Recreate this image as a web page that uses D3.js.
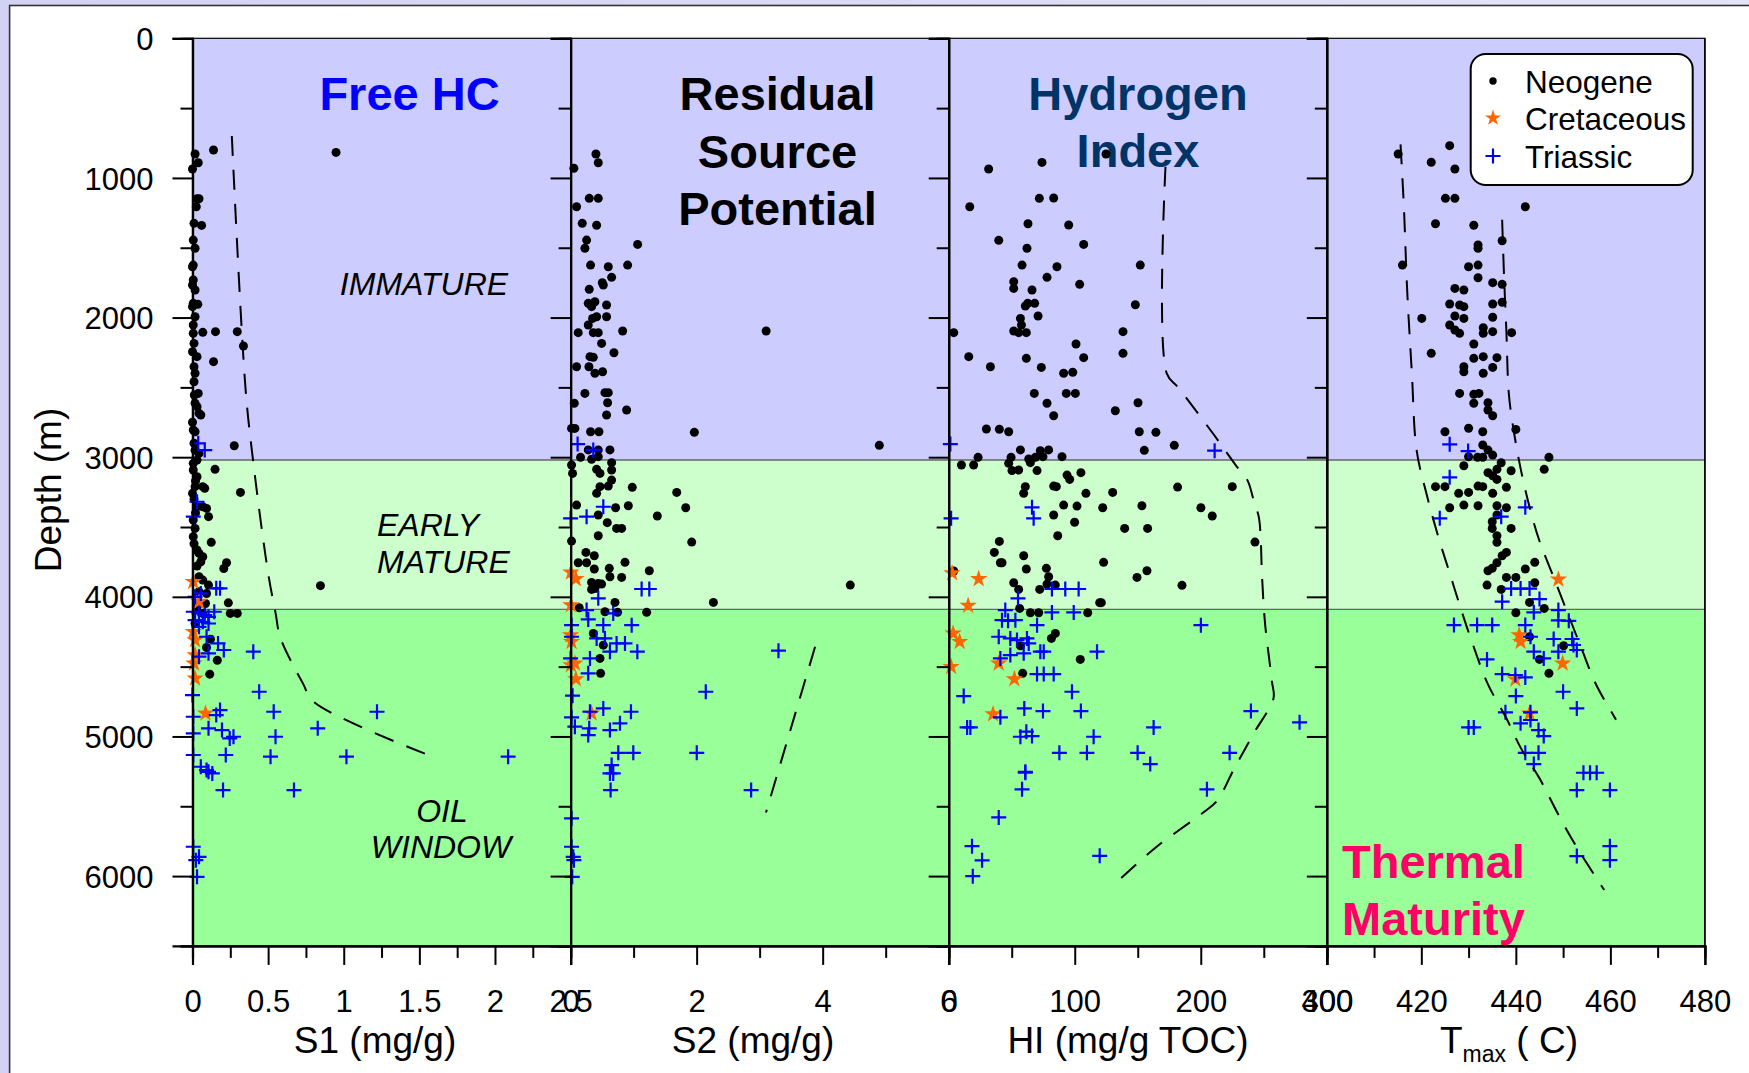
<!DOCTYPE html>
<html><head><meta charset="utf-8">
<script src="https://cdn.jsdelivr.net/npm/d3@7"></script>
<style>
body{margin:0;background:#fff;}
svg{display:block;font-family:"Liberation Sans",Arial,Helvetica,sans-serif;}
</style>
</head><body>
<svg id="chart" width="1749" height="1073"></svg>
<script>
// ---------------- DATA ----------------
const depthTicks = [0,1000,2000,3000,4000,5000,6000];
const depthMinor = [500,1500,2500,3500,4500,5500,6500];
const zones = [
  {name:"immature", top:0, bottom:3020, color:"#ccccff"},
  {name:"early", top:3020, bottom:4090, color:"#ccffcc"},
  {name:"oil", top:4090, bottom:6500, color:"#99ff99"}
];
const s1Ticks = [0,0.5,1,1.5,2,2.5];
const s1Minor = [0.25,0.75,1.25,1.75,2.25];
const s2Ticks = [0,2,4,6];
const s2Minor = [1,3,5];
const hiTicks = [0,100,200,300];
const hiMinor = [50,150,250];
const tmaxTicks = [400,420,440,460,480];
const tmaxMinor = [410,430,450,470];
const legendNames = ["Neogene","Cretaceous","Triassic"];

// Panel 1: S1 (mg/g) vs depth (m)
const s1Neogene = [[0.139,800],[0.949,817],[0.017,829],[0.038,891],[0,936],[0.03,1149],[0.043,1149],[0.025,1206],[0.01,1325],[0.06,1340],[0.005,1445],[0.017,1504],[0.005,1624],[0,1636],[0.005,1731],[0,1767],[0.017,1803],[0.005,1898],[0.035,1905],[0,1922],[0.017,1994],[0.005,2053],[0.068,2106],[0.152,2101],[0.296,2101],[0.337,2204],[0.005,2113],[0.01,2185],[0.139,2316],[0,2245],[0.03,2280],[0.01,2352],[0.017,2399],[0.01,2460],[0.038,2543],[0.012,2555],[0.017,2614],[0.03,2638],[0.043,2686],[0.055,2698],[0,2750],[0.005,2805],[0.017,2818],[0.276,2918],[0.01,2900],[0.017,2950],[0.043,2973],[0.03,3021],[0.005,3044],[0.149,3087],[0.005,3092],[0.03,3140],[0.02,3170],[0.017,3211],[0.068,3211],[0.081,3223],[0.317,3252],[0,3259],[0.01,3300],[0.03,3355],[0.068,3355],[0.093,3367],[0.02,3400],[0.106,3426],[0.005,3450],[0.017,3510],[0.005,3569],[0.124,3610],[0.01,3620],[0.03,3665],[0.043,3689],[0.068,3713],[0.055,3749],[0.225,3756],[0.03,3780],[0.207,3797],[0.043,3856],[0.068,3880],[0.106,3916],[0.846,3920],[0.043,3964],[0.093,3976],[0.237,4043],[0.086,4048],[0.03,4072],[0.25,4119],[0.296,4119],[0.068,4119],[0.017,4191],[0.119,4303],[0.093,4363],[0.164,4454],[0.114,4554]];
const s1Cretaceous = [[0.005,3892],[0.043,4035],[0.005,4250],[0.017,4310],[0.017,4417],[0.01,4477],[0.017,4584],[0.086,4835]];
const s1Triassic = [[0.038,2901],[0.081,2949],[0.03,3319],[0.005,3426],[0.157,3939],[0.182,3939],[0.055,3976],[0.017,4000],[0.005,4107],[0.043,4119],[0.081,4131],[0.106,4143],[0.144,4107],[0.017,4167],[0.068,4179],[0.106,4191],[0.043,4215],[0.093,4286],[0.169,4334],[0.207,4381],[0.402,4393],[0.106,4405],[0.043,4429],[0,4704],[0.441,4680],[0.182,4811],[0.157,4847],[0.537,4823],[1.22,4823],[0.005,4859],[0.828,4942],[0.106,4942],[0.195,4954],[0.005,4978],[0.271,5002],[0.246,5014],[0.549,5002],[0.005,5133],[0.22,5133],[0.516,5145],[1.018,5145],[2.087,5145],[0.055,5217],[0.093,5241],[0.106,5253],[0.131,5265],[0.202,5384],[0.671,5384],[0.005,5790],[0.043,5862],[0.022,5886],[0.03,6005]];
const s1Trend = [[0.26,700],[0.35,2500],[0.40,3020],[0.50,3830],[0.55,4120],[0.58,4290],[0.73,4620],[0.80,4750],[1.60,5150]];

// Panel 2: S2 (mg/g)
const s2Neogene = [[0.052,931],[0.402,829],[0.439,891],[0.095,1206],[0.296,1146],[0.439,1146],[0.185,1325],[0.413,1339],[0.254,1445],[0.227,1504],[1.064,1476],[0.317,1624],[0.598,1636],[0.905,1624],[0.651,1712],[0.503,1750],[0.519,1767],[0.296,1798],[0.28,1898],[0.386,1887],[0.571,1910],[0.333,1922],[0.413,1994],[0.571,1994],[0.349,2006],[0.28,2053],[0.121,2108],[0.36,2108],[0.439,2108],[0.826,2096],[3.103,2096],[0.492,2185],[0.688,2252],[0.307,2280],[0.36,2285],[0.095,2352],[0.291,2352],[0.386,2399],[0.508,2388],[0.227,2543],[0.545,2538],[0.598,2538],[0.058,2614],[0.587,2610],[0.571,2698],[0.889,2662],[0.015,2794],[0.068,2794],[0.317,2818],[0.45,2818],[1.964,2822],[4.899,2915],[0.28,2948],[0.439,2948],[0.624,2948],[0.158,3001],[0.333,3015],[0.439,2996],[0.015,3056],[0.031,3116],[0.651,3039],[0.651,3092],[0.413,3087],[0.466,3116],[0.651,3164],[0.466,3211],[0.598,3207],[0.413,3259],[0.979,3216],[1.684,3252],[1.827,3362],[1.376,3421],[0.095,3343],[0.714,3362],[0.916,3348],[0.439,3414],[0.582,3469],[0.73,3510],[0.81,3510],[0.439,3563],[0.015,3601],[1.922,3608],[0.243,3682],[0.376,3706],[0.121,3756],[0.254,3756],[0.863,3753],[1.249,3813],[0.376,3801],[0.614,3796],[0.624,3856],[0.81,3861],[0.333,3897],[0.439,3904],[0.492,3909],[0.333,3947],[0.386,3940],[4.438,3916],[2.266,4040],[0.704,4040],[0.137,4078],[0.545,4107],[0.746,4111],[1.207,4111],[0.36,4262],[0.519,4346],[0.466,4441],[0.476,4548]];
const s2Cretaceous = [[0.005,3825],[0.084,3872],[0.005,4059],[0,4274],[0.015,4322],[0.005,4489],[0.068,4477],[0.084,4589],[0.333,4835]];
const s2Triassic = [[0.111,2906],[0.36,2948],[0.519,3355],[0,3438],[0.254,3426],[1.127,3944],[1.249,3944],[0.439,4011],[0.254,4095],[0.677,4119],[0.28,4162],[0.519,4203],[0.969,4203],[0.015,4203],[0.015,4286],[0.413,4298],[0.545,4298],[0.73,4334],[0.863,4334],[0.624,4393],[1.059,4393],[3.299,4386],[0,4441],[0.307,4441],[0.28,4548],[0.031,4708],[2.145,4680],[0.307,4823],[0.519,4799],[0.958,4823],[0.015,4863],[0.068,4930],[0.296,4942],[0.28,4990],[0.624,4954],[0.783,4906],[2.002,5117],[0.757,5117],[0.995,5117],[0.651,5205],[0.677,5265],[0.624,5265],[0.635,5384],[2.865,5384],[0.015,5587],[0.015,5790],[0.042,5862],[0.052,5886],[0.026,6005]];
const s2Trend = [[3.88,4357],[3.10,5545]];

// Panel 3: HI (mg/g TOC)
const hiNeogene = [[124.8,829],[74,889],[31.7,936],[71.9,1146],[83.3,1144],[16.7,1206],[62.9,1328],[95.2,1337],[39.7,1447],[62.1,1504],[107.1,1476],[58.2,1624],[85.9,1636],[152,1624],[51.6,1743],[51.6,1791],[66.1,1803],[78,1712],[103.9,1762],[148.1,1908],[60.8,1917],[62.7,1898],[68.2,1898],[56.9,2006],[70.9,1989],[57.7,2053],[4,2108],[51.6,2096],[55.5,2108],[61.6,2108],[138.3,2101],[101,2189],[15.9,2280],[61.6,2292],[107.1,2287],[138.3,2256],[33.1,2352],[73.5,2357],[91.2,2399],[98.4,2392],[67.9,2543],[93.3,2543],[100.5,2543],[78,2614],[83.3,2703],[132.2,2667],[150.2,2610],[29.9,2798],[40.2,2800],[47.6,2818],[151.2,2818],[164.4,2822],[179,2915],[155.2,2951],[56.9,2948],[72.7,2953],[79.3,2948],[23.3,3001],[49.5,3001],[63.5,3013],[68.8,3001],[74.8,2996],[89.9,2996],[10.1,3056],[19.8,3056],[47.6,3044],[50.2,3096],[55.5,3092],[64.8,3039],[70.1,3096],[93.9,3128],[96,3159],[104.9,3111],[60.8,3211],[83.3,3207],[85.4,3211],[59.5,3259],[108.9,3259],[130.1,3252],[181.6,3214],[225,3211],[91.2,3343],[101.8,3350],[122.2,3362],[153.3,3348],[200.1,3362],[209.1,3421],[83.3,3414],[99.9,3466],[139.6,3510],[157.8,3510],[86.5,3563],[243,3608],[40.2,3603],[36.2,3682],[41,3756],[42.3,3756],[59.5,3706],[61.6,3801],[77.5,3796],[122.9,3753],[149.4,3861],[157.3,3813],[185.1,3918],[4,3815],[51.6,3899],[55.5,3947],[79.3,3856],[78,3909],[84.6,3916],[72.2,3947],[119.8,4042],[121.1,4042],[56.3,4083],[64.8,4114],[71.4,4114],[110.3,4114],[84.6,4262],[81.5,4298],[56.9,4350],[104.4,4448],[58.7,4548]];
const hiCretaceous = [[2.7,3830],[23.8,3872],[15.4,4063],[3.5,4262],[8.7,4322],[1.9,4501],[39.7,4477],[52.1,4589],[35.2,4840]];
const hiTriassic = [[1.3,2906],[211,2953],[66.1,3359],[67.4,3438],[1.9,3438],[81.9,3944],[92.5,3944],[103.1,3944],[55,4011],[44.9,4095],[70.1,4203],[81.9,4112],[99.2,4112],[42.3,4167],[47.1,4172],[52.9,4167],[62.1,4298],[39.7,4286],[48.9,4298],[54.2,4310],[63.5,4334],[72.7,4393],[75.4,4393],[117.7,4393],[41,4441],[48.9,4417],[59.5,4405],[70.1,4553],[75.4,4553],[83.3,4553],[200.1,4203],[97.8,4680],[11.9,4711],[60,4799],[74.8,4818],[104.9,4818],[41,4863],[239.8,4818],[278.4,4899],[14.6,4935],[17.2,4935],[56.9,5002],[61.6,4966],[66.1,4997],[115,5002],[162.6,4935],[87.8,5117],[109.7,5117],[149.9,5117],[159.9,5198],[222.9,5117],[60.8,5253],[60.8,5260],[58.2,5379],[204.9,5379],[39.7,5580],[18.5,5786],[26.5,5887],[19.1,6001],[119.8,5855]];
const hiTrend = [[172,920],[173,2400],[182,2500],[210,2834],[228,3060],[237,3164],[242,3310],[246,3426],[247.5,3570],[248.5,3830],[251,4190],[256.5,4608],[257.7,4727],[242,4978],[226,5240],[213,5460],[202,5545],[165,5790],[135,6030]];

// Panel 4: Tmax (C)
const tmaxNeogene = [[415.1,829],[426,769],[422.1,888],[427.1,936],[425.1,1146],[427.1,1146],[442,1206],[423,1328],[431.1,1339],[437.1,1450],[432,1480],[432,1504],[416,1624],[430,1636],[432,1624],[432,1715],[435.1,1750],[437.1,1762],[427.1,1791],[429,1803],[426,1903],[428.1,1910],[429,1922],[435.1,1903],[437.1,1891],[420.1,2006],[427.1,1989],[429,2006],[435.1,1998],[426,2053],[427.1,2089],[428.1,2113],[433.1,2073],[433.1,2113],[435.1,2101],[439.1,2108],[422.1,2256],[431.1,2189],[429,2352],[429,2388],[431.1,2292],[433.1,2280],[436,2287],[435.1,2357],[433.1,2399],[428.1,2543],[431.1,2550],[432.2,2543],[431.1,2614],[434.1,2610],[434.1,2662],[435.1,2703],[440,2801],[425,2818],[430,2793],[433,2818],[433,2913],[434.1,2949],[435.1,2985],[436.9,3040],[433,3001],[430,2997],[431.9,3001],[447,3001],[446,3087],[439,3097],[429,3061],[436,3087],[434.1,3111],[435.1,3133],[436,3159],[423,3211],[425,3211],[432,3207],[433,3211],[438,3216],[427.9,3259],[430,3252],[435.1,3259],[426,3362],[429,3343],[432,3348],[436,3348],[438,3362],[436,3414],[435,3462],[435,3510],[439,3510],[436,3563],[436,3610],[438,3682],[437.1,3706],[436,3756],[434.1,3813],[435,3796],[444,3753],[442,3801],[433.9,3916],[438,3861],[440,3861],[444,3899],[436.9,3947],[442.9,4040],[446,4083],[440,4114],[442.9,4286],[450.1,4350],[445,4448],[447,4548]];
const tmaxCretaceous = [[449,3875],[440.7,4274],[441,4322],[449.9,4477],[439.9,4591],[442.9,4835]];
const tmaxTriassic = [[426,2908],[429.9,2956],[426,3144],[423.9,3438],[442,3359],[436.9,3426],[439,3941],[441,3941],[442.9,3941],[437.1,4035],[445,4016],[443.8,4111],[449,4095],[426.9,4202],[431.8,4202],[435,4202],[442,4202],[449,4168],[451.2,4172],[443.1,4286],[448,4302],[451.9,4302],[452.2,4345],[443.8,4393],[445.9,4441],[449,4393],[452.9,4381],[433.9,4448],[437.1,4553],[439.9,4560],[442,4577],[450,4680],[440,4711],[452.9,4799],[437.8,4827],[443.1,4827],[441,4906],[443.1,4882],[444.8,4954],[445.9,4997],[430,4935],[431.1,4935],[442,5117],[444.8,5117],[443.8,5198],[454.3,5260],[455.7,5260],[457.1,5260],[452.9,5384],[459.9,5384],[452.9,5857],[459.9,5786],[459.9,5886]];
const tmaxTrendLow = [[415.6,760],[416.3,1200],[417,1800],[418,2400],[419,2950],[421,3250],[423.5,3560],[426,3830],[428.5,4100],[431,4350],[434,4620],[438,4870],[441,5080],[445,5300],[449,5560],[453,5800],[458.7,6100]];
const tmaxTrendHigh = [[437.1,1300],[437.5,1700],[438,2100],[438.5,2540],[439.5,2800],[441,3080],[443,3370],[445,3600],[448,3860],[451,4120],[454,4380],[457,4630],[461.2,4880]];

// ---------------- LAYOUT ----------------
const svg = d3.select("#chart");
const W = 1749, H = 1073;
const plotTop = 38.3, plotBottom = 945.9;
const panelX = [192.5, 570.6, 948.7, 1326.8, 1704.9];
const y = d3.scaleLinear().domain([0,6500]).range([plotTop, plotBottom]);

const panels = [
  {domain:[0,2.5], ticks:s1Ticks, minor:s1Minor, fmt:d3.format("~g"), neo:s1Neogene, cre:s1Cretaceous, tri:s1Triassic, trends:[s1Trend]},
  {domain:[0,6], ticks:s2Ticks, minor:s2Minor, fmt:d3.format("d"), neo:s2Neogene, cre:s2Cretaceous, tri:s2Triassic, trends:[s2Trend]},
  {domain:[0,300], ticks:hiTicks, minor:hiMinor, fmt:d3.format("d"), neo:hiNeogene, cre:hiCretaceous, tri:hiTriassic, trends:[hiTrend]},
  {domain:[400,480], ticks:tmaxTicks, minor:tmaxMinor, fmt:d3.format("d"), neo:tmaxNeogene, cre:tmaxCretaceous, tri:tmaxTriassic, trends:[tmaxTrendLow, tmaxTrendHigh]}
];
panels.forEach((p,i)=>{ p.x = d3.scaleLinear().domain(p.domain).range([panelX[i], panelX[i+1]]); });

// outer slide background + frame
const defs = svg.append("defs");
const grad = defs.append("linearGradient").attr("id","bg").attr("x1","0").attr("x2","1").attr("y1","0").attr("y2","0");
grad.append("stop").attr("offset","0").attr("stop-color","#d2d2f4");
grad.append("stop").attr("offset","1").attr("stop-color","#e4e4f8");
svg.append("rect").attr("width",W).attr("height",H).attr("fill","url(#bg)");
svg.append("rect").attr("x",9.6).attr("y",5.5).attr("width",W).attr("height",H)
  .attr("fill","#fff").attr("stroke","#333").attr("stroke-width",1.6);

// zone bands
const gBands = svg.append("g");
gBands.selectAll("rect").data(zones).join("rect")
  .attr("x",panelX[0]).attr("width",panelX[4]-panelX[0])
  .attr("y",d=>y(d.top)).attr("height",d=>y(d.bottom)-y(d.top))
  .attr("fill",d=>d.color);
gBands.selectAll("line").data(zones.slice(1)).join("line")
  .attr("x1",panelX[0]).attr("x2",panelX[4])
  .attr("y1",d=>y(d.top)).attr("y2",d=>y(d.top))
  .attr("stroke","#666").attr("stroke-width",1.4);

// zone labels (panel 1)
const zl = svg.append("g").attr("font-style","italic").attr("font-size",32).attr("fill","#000");
zl.append("text").attr("x",424).attr("y",295).attr("text-anchor","middle").text("IMMATURE");
zl.append("text").attr("x",377).attr("y",536).text("EARLY");
zl.append("text").attr("x",377).attr("y",573).text("MATURE");
zl.append("text").attr("x",442).attr("y",822).attr("text-anchor","middle").text("OIL");
zl.append("text").attr("x",441).attr("y",858).attr("text-anchor","middle").text("WINDOW");

// panel titles
const tt = svg.append("g").attr("font-weight","bold").attr("font-size",47);
tt.append("text").attr("x",409.5).attr("y",110).attr("text-anchor","middle").attr("fill","#0000ff").text("Free HC");
["Residual","Source","Potential"].forEach((t,i)=>tt.append("text").attr("x",777.5).attr("y",110+i*57.5).attr("text-anchor","middle").attr("fill","#000").text(t));
["Hydrogen","Index"].forEach((t,i)=>tt.append("text").attr("x",1138).attr("y",110+i*57).attr("text-anchor","middle").attr("fill","#003366").text(t));
["Thermal","Maturity"].forEach((t,i)=>tt.append("text").attr("x",1342).attr("y",878+i*57).attr("fill","#ff0066").text(t));

// markers
const starPath = d3.symbol().type(d3.symbolStar).size(95)();
const plusPath = "M-7.5,0H7.5M0,-7.5V7.5";
panels.forEach(p=>{
  const g = svg.append("g");
  g.selectAll("circle").data(p.neo).join("circle")
    .attr("cx",d=>p.x(d[0])).attr("cy",d=>y(d[1])).attr("r",4.5).attr("fill","#000");
  g.selectAll("path.star").data(p.cre).join("path").attr("class","star")
    .attr("d",starPath).attr("transform",d=>`translate(${p.x(d[0])},${y(d[1])})`).attr("fill","#ff6600");
  g.selectAll("path.plus").data(p.tri).join("path").attr("class","plus")
    .attr("d",plusPath).attr("transform",d=>`translate(${p.x(d[0])},${y(d[1])})`)
    .attr("stroke","#0000ff").attr("stroke-width",2.2).attr("fill","none");
  const line = d3.line().x(d=>p.x(d[0])).y(d=>y(d[1])).curve(d3.curveCatmullRom);
  p.trends.forEach(t=>{
    g.append("path").attr("d",line(t)).attr("fill","none").attr("stroke","#000")
      .attr("stroke-width",2).attr("stroke-dasharray","20,14");
  });
});

// frames and axes
panels.forEach((p,i)=>{
  svg.append("rect").attr("x",panelX[i]).attr("y",plotTop).attr("width",panelX[i+1]-panelX[i]).attr("height",plotBottom-plotTop)
    .attr("fill","none").attr("stroke","#000").attr("stroke-width",1.2);
  const gy = svg.append("g").attr("transform",`translate(${panelX[i]},0)`);
  gy.call(d3.axisLeft(y).tickValues(depthTicks).tickSize(20).tickFormat(i===0?d3.format("d"):""));
  gy.append("g").call(d3.axisLeft(y).tickValues(depthMinor).tickSize(12).tickFormat(""));
  gy.selectAll(".domain").attr("stroke-width",2.2);
  gy.selectAll(".tick line").attr("stroke-width",2);
  gy.selectAll(".tick text").attr("font-size",31).attr("font-family","Liberation Sans, Arial, sans-serif")
    .attr("fill","#000").attr("x",-39).attr("dy","0.36em");
  const gx = svg.append("g").attr("transform",`translate(0,${plotBottom})`);
  gx.call(d3.axisBottom(p.x).tickValues(p.ticks).tickSize(19).tickFormat(p.fmt));
  gx.append("g").call(d3.axisBottom(p.x).tickValues(p.minor).tickSize(12).tickFormat(""));
  gx.selectAll(".domain").attr("stroke-width",2.2);
  gx.selectAll(".tick line").attr("stroke-width",2);
  gx.selectAll(".tick text").attr("font-size",31).attr("font-family","Liberation Sans, Arial, sans-serif")
    .attr("fill","#000").attr("y",66).attr("dy",0);
});
svg.append("line").attr("x1",panelX[4]).attr("x2",panelX[4]).attr("y1",plotTop).attr("y2",plotBottom).attr("stroke","#000").attr("stroke-width",1.5);

// axis titles
const at = svg.append("g").attr("font-size",37).attr("fill","#000");
at.append("text").attr("transform","translate(61,490) rotate(-90)").attr("text-anchor","middle").text("Depth (m)");
at.append("text").attr("x",375).attr("y",1053).attr("text-anchor","middle").text("S1 (mg/g)");
at.append("text").attr("x",753).attr("y",1053).attr("text-anchor","middle").text("S2 (mg/g)");
at.append("text").attr("x",1128).attr("y",1053).attr("text-anchor","middle").text("HI (mg/g TOC)");
const tm = at.append("text").attr("x",1509).attr("y",1053).attr("text-anchor","middle");
tm.append("tspan").text("T");
tm.append("tspan").attr("dy",9).attr("font-size",23).text("max");
tm.append("tspan").attr("dy",-9).text(" ( C)");

// legend
const lg = svg.append("g");
lg.append("rect").attr("x",1470.7).attr("y",54).attr("width",222).attr("height",131).attr("rx",15)
  .attr("fill","#fff").attr("stroke","#000").attr("stroke-width",2);
const legY = [81,118,156];
lg.append("circle").attr("cx",1493).attr("cy",legY[0]).attr("r",3.7).attr("fill","#000");
lg.append("path").attr("d",d3.symbol().type(d3.symbolStar).size(80)()).attr("transform",`translate(1493,${legY[1]})`).attr("fill","#ff6600");
lg.append("path").attr("d",plusPath).attr("transform",`translate(1493,${legY[2]})`).attr("stroke","#0000ff").attr("stroke-width",2.2);
lg.selectAll("text").data(legendNames).join("text")
  .attr("x",1525).attr("y",(d,i)=>legY[i]+11.5).attr("font-size",31.5).attr("fill","#000").text(d=>d);
</script>
</body></html>
